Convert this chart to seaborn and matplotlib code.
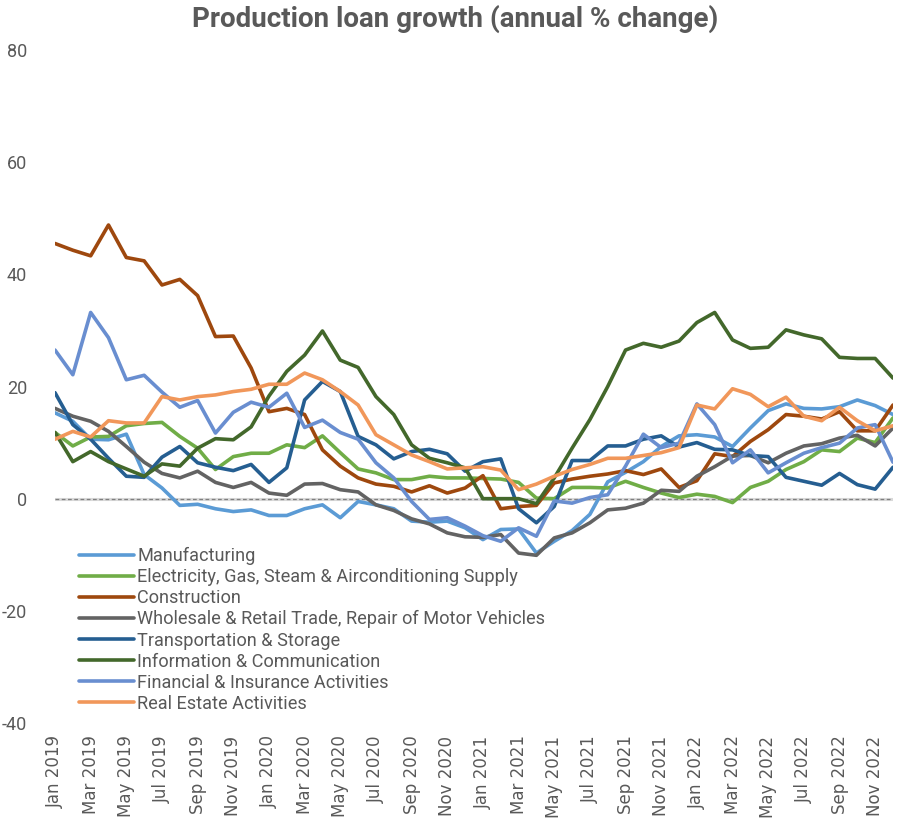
import matplotlib
matplotlib.use("Agg")
import matplotlib.pyplot as plt
from matplotlib import font_manager
from matplotlib.lines import Line2D
import numpy as np
import pandas as pd
import seaborn as sns

# Monthly observations, Jan 2019 - Dec 2022 (annual % change)
months = pd.date_range("2019-01-01", periods=48, freq="MS")

manufacturing = [15.3, 13.8, 10.6, 10.5, 11.5, 4.3, 1.9, -1.2, -1.0, -1.8, -2.3, -2.0,
                 -3.0, -3.0, -1.8, -1.1, -3.4, -0.5, -1.1, -1.8, -4.0, -4.2, -4.0, -5.2,
                 -7.3, -5.5, -5.4, -9.7, -7.6, -5.7, -2.8, 3.0, 4.7, 6.6, 9.3, 11.2,
                 11.4, 11.0, 9.3, 12.6, 15.7, 16.9, 16.1, 16.0, 16.4, 17.6, 16.6, 15.0]
electricity = [11.8, 9.4, 11.0, 11.1, 13.0, 13.4, 13.6, 11.1, 9.0, 5.2, 7.5, 8.1,
               8.1, 9.6, 9.1, 11.2, 8.2, 5.3, 4.6, 3.4, 3.4, 4.0, 3.7, 3.7,
               3.6, 3.5, 2.9, 0.1, 0.0, 2.0, 2.0, 1.9, 3.1, 2.0, 1.0, 0.2,
               0.8, 0.4, -0.7, 2.0, 3.1, 5.2, 6.6, 8.7, 8.4, 10.8, 10.0, 14.4]
construction = [45.5, 44.3, 43.3, 48.8, 43.0, 42.4, 38.1, 39.1, 36.2, 28.9, 29.0, 23.3,
                15.5, 16.1, 15.0, 8.7, 5.8, 3.7, 2.6, 2.2, 1.2, 2.3, 1.0, 1.9,
                4.1, -1.8, -1.4, -1.2, 2.8, 3.5, 4.0, 4.4, 5.0, 4.3, 5.3, 2.0,
                3.2, 8.0, 7.5, 10.2, 12.3, 15.0, 14.7, 14.2, 15.5, 12.1, 12.1, 16.7]
wholesale = [16.1, 14.7, 13.8, 12.0, 9.3, 6.5, 4.5, 3.7, 4.9, 2.9, 2.0, 2.9,
             1.0, 0.6, 2.6, 2.7, 1.6, 1.2, -1.1, -2.1, -3.6, -4.5, -6.1, -6.8,
             -6.9, -6.4, -9.7, -10.1, -7.0, -6.1, -4.3, -2.0, -1.7, -0.8, 1.5, 1.3,
             4.0, 5.7, 7.6, 7.7, 6.4, 8.1, 9.4, 9.8, 10.8, 11.3, 9.4, 12.6]
transport = [18.9, 13.2, 10.6, 7.2, 4.0, 3.8, 7.4, 9.3, 6.4, 5.6, 5.0, 6.1,
             2.9, 5.5, 17.6, 20.9, 19.1, 11.1, 9.6, 7.1, 8.4, 8.8, 8.0, 4.9,
             6.6, 7.1, -1.8, -4.3, -1.4, 6.8, 6.8, 9.4, 9.4, 10.6, 11.2, 9.2,
             10.0, 8.8, 8.7, 7.7, 7.5, 3.8, 3.1, 2.4, 4.5, 2.5, 1.7, 5.6]
information = [11.8, 6.6, 8.4, 6.6, 5.3, 4.0, 6.2, 5.8, 9.0, 10.7, 10.5, 12.8,
               18.3, 22.7, 25.6, 29.9, 24.7, 23.4, 18.2, 15.0, 9.6, 7.2, 6.4, 5.5,
               0.0, 0.0, 0.0, -0.9, 3.7, 9.0, 14.1, 20.0, 26.5, 27.7, 27.0, 28.1,
               31.4, 33.2, 28.3, 26.8, 27.0, 30.1, 29.2, 28.5, 25.2, 25.0, 25.0, 21.5]
financial = [26.5, 22.1, 33.2, 28.7, 21.2, 22.0, 19.0, 16.3, 17.5, 11.7, 15.4, 17.2,
             16.3, 18.8, 12.7, 14.0, 11.8, 10.6, 6.4, 3.7, -0.5, -3.7, -3.4, -4.9,
             -6.6, -7.6, -5.2, -6.7, -0.4, -0.8, 0.2, 0.7, 5.8, 11.5, 9.1, 9.9,
             16.9, 13.2, 6.4, 8.7, 4.6, 6.4, 8.1, 9.1, 9.9, 12.6, 13.2, 6.5]
real_estate = [10.6, 12.0, 11.0, 13.9, 13.5, 13.5, 18.2, 17.6, 18.2, 18.5, 19.1, 19.5,
               20.4, 20.4, 22.4, 21.2, 19.1, 16.7, 11.4, 9.6, 7.8, 6.6, 5.3, 5.5,
               5.7, 5.1, 1.6, 2.6, 4.0, 5.2, 6.1, 7.2, 7.2, 7.7, 8.2, 9.1,
               16.7, 16.0, 19.6, 18.6, 16.4, 18.1, 14.7, 13.9, 16.3, 13.9, 12.1, 13.0]

series_names = [
    "Manufacturing",
    "Electricity, Gas, Steam & Airconditioning Supply",
    "Construction",
    "Wholesale & Retail Trade, Repair of Motor Vehicles",
    "Transportation & Storage",
    "Information & Communication",
    "Financial & Insurance Activities",
    "Real Estate Activities",
]
series_values = [manufacturing, electricity, construction, wholesale,
                 transport, information, financial, real_estate]
series_colors = ["#5B9BD5", "#70AD47", "#9E480E", "#636363",
                 "#255E91", "#43682B", "#698ED0", "#F1975A"]

y_ticks = [-40, -20, 0, 20, 40, 60, 80]
x_tick_labels = [m.strftime("%b %Y") for m in months[::2]]

# Long-form table for seaborn
df = pd.concat(
    [pd.DataFrame({"month": np.arange(len(months)), "value": vals, "series": name})
     for name, vals in zip(series_names, series_values)],
    ignore_index=True,
)

sns.set_theme(style="white")
installed = {f.name for f in font_manager.fontManager.ttflist}
narrow = "Liberation Sans Narrow" if "Liberation Sans Narrow" in installed else "Roboto"
plt.rcParams["font.family"] = ["DejaVu Sans"]

text_color = "#595959"
W, H = 898, 819
fig = plt.figure(figsize=(W / 100, H / 100), dpi=100)
ax = fig.add_axes([55 / W, 96 / H, 838 / W, 673 / H])

# zero reference line
ax.axhline(0, color="#d9d9d9", lw=2.2, zorder=1)
ax.axhline(0, color="#7f7f7f", lw=0.9, ls=(0, (3, 2)), zorder=1.5)

palette = dict(zip(series_names, series_colors))
sns.lineplot(data=df, x="month", y="value", hue="series", hue_order=series_names,
             palette=palette, linewidth=2.6, legend=False, ax=ax, zorder=3)

ax.set_xlim(0, 47)
ax.set_ylim(-40, 80)
ax.set_xlabel("")
ax.set_ylabel("")
for s in ax.spines.values():
    s.set_visible(False)

ax.set_yticks(y_ticks)
ax.set_yticklabels([str(v) for v in y_ticks], fontfamily=narrow, fontsize=13,
                   color=text_color)
ax.tick_params(axis="y", length=0, pad=20)

ax.set_xticks(np.arange(0, len(months), 2))
ax.set_xticklabels(x_tick_labels, rotation=90, fontsize=12.0, color=text_color,
                   ha="center", va="top")
ax.tick_params(axis="x", length=0, pad=9)

handles = [Line2D([], [], color=c, lw=2.6) for c in series_colors]
leg = ax.legend(handles, series_names, loc="upper left",
                bbox_to_anchor=(79 / W, 1 - 547 / H), bbox_transform=fig.transFigure,
                frameon=False, borderpad=0, borderaxespad=0,
                handlelength=3.0, handletextpad=0.2, labelspacing=0.17,
                prop={"family": narrow, "size": 13.1})
for t in leg.get_texts():
    t.set_color(text_color)

fig.text(455 / W, 1 - 27 / H, "Production loan growth (annual % change)",
         ha="center", va="baseline", fontsize=20, fontweight="bold",
         fontfamily=narrow, color=text_color)

fig.savefig("out.png", dpi=100, facecolor="white")
